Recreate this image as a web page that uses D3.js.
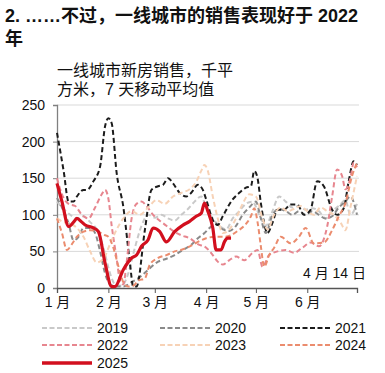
<!DOCTYPE html>
<html>
<head>
<meta charset="utf-8">
<script src="https://cdn.jsdelivr.net/npm/d3@7"></script>
<style>
  body { margin: 0; background: #fff; }
  svg { display: block; font-family: "Liberation Sans", Arial, "Noto Sans CJK SC", sans-serif; }
</style>
</head>
<body>
<div id="chart"></div>
<script>
// 一线城市新房销售，7 天移动平均值 (千平方米), [day of year, value]
const years = ["2019", "2020", "2021", "2022", "2023", "2024", "2025"]
const colors = ["#c9c9c9", "#8a8a8a", "#1c1c1c", "#e7868f", "#f7d2b6", "#eb8c6e", "#d20f1e"]

const s2019 = [[0,118],[4,108],[8,100],[12,95],[16,98],[20,90],[24,80],[28,55],[32,20],[35,5],[39,3],[43,20],[47,55],[51,85],[55,100],[59,96],[63,100],[67,95],[71,92],[75,100],[79,108],[83,118],[87,125],[90,110],[94,95],[98,85],[102,80],[106,95],[110,105],[114,115],[118,118],[122,100],[126,85],[130,105],[134,125],[138,118],[142,110],[146,112],[150,107],[154,109],[158,105],[162,95],[166,105],[170,112],[174,120],[177,100],[181,115]]
const s2020 = [[0,123],[3,110],[7,88],[10,65],[13,70],[16,82],[20,82],[23,75],[26,50],[29,20],[32,5],[36,2],[40,2],[45,8],[50,15],[55,25],[61,36],[66,40],[71,45],[76,52],[81,59],[85,68],[89,75],[92,82],[96,88],[100,80],[104,78],[108,85],[112,100],[116,110],[120,118],[123,95],[126,75],[130,100],[134,108],[138,105],[142,100],[146,105],[150,100],[154,105],[158,100],[162,95],[166,98],[170,110],[174,118],[177,125],[181,100]]
const s2021 = [[0,212],[4,160],[7,118],[10,118],[12,125],[16,134],[18,134],[22,146],[26,166],[29,221],[31,232],[33,225],[36,157],[40,111],[44,34],[46,2],[48,2],[53,79],[57,134],[61,139],[64,141],[67,150],[70,143],[74,130],[78,125],[81,130],[85,141],[88,134],[90,121],[94,93],[97,86],[100,98],[106,121],[110,130],[114,137],[117,139],[119,160],[121,150],[123,116],[127,75],[130,89],[133,107],[137,107],[141,114],[145,114],[149,100],[153,107],[157,146],[161,139],[166,107],[169,100],[173,109],[176,146],[179,173],[181,168]]
const s2022 = [[0,150],[3,128],[7,115],[11,112],[15,100],[19,95],[23,110],[27,128],[29,134],[31,122],[33,85],[36,40],[38,10],[40,5],[42,35],[45,95],[48,115],[51,118],[54,112],[58,100],[62,92],[66,85],[70,78],[75,72],[80,68],[85,60],[90,55],[94,45],[97,36],[100,32],[104,38],[108,43],[113,38],[118,48],[121,52],[124,29],[128,45],[133,50],[138,52],[143,48],[148,55],[153,62],[158,57],[163,84],[166,125],[169,162],[172,153],[174,135],[177,150],[179,171],[181,165]]
const s2023 = [[0,95],[4,90],[8,88],[12,82],[16,70],[20,50],[24,35],[28,40],[32,60],[36,80],[40,95],[45,105],[50,100],[55,110],[60,120],[65,115],[70,125],[75,130],[80,135],[84,145],[87,160],[89,168],[91,160],[94,125],[97,95],[100,75],[104,80],[108,95],[112,115],[116,128],[120,125],[124,95],[127,80],[131,100],[135,110],[139,105],[143,108],[147,112],[151,105],[155,100],[159,110],[163,105],[167,100],[171,90],[174,79],[177,110],[181,153]]
const s2024 = [[0,95],[3,75],[6,52],[9,60],[12,70],[16,77],[20,79],[24,78],[28,73],[31,70],[34,55],[37,30],[40,8],[43,2],[46,3],[49,10],[53,13],[56,32],[61,41],[66,45],[71,50],[76,53],[81,58],[85,63],[90,68],[96,70],[101,70],[105,72],[109,78],[113,85],[117,98],[119,109],[121,90],[123,57],[125,29],[128,45],[131,55],[135,70],[141,61],[146,70],[150,82],[155,61],[161,62],[166,79],[170,98],[174,116],[178,153],[181,171]]
const s2025 = [[0,143],[3,118],[7,84],[10,90],[12,95],[15,90],[17,86],[22,82],[25,77],[29,34],[33,2],[35,2],[40,25],[45,41],[48,45],[51,57],[55,66],[58,82],[62,77],[66,63],[71,77],[76,86],[80,91],[84,98],[87,102],[89,116],[91,105],[94,82],[96,52],[99,52],[101,63],[103,68],[105,68]]
const series = [s2019, s2020, s2021, s2022, s2023, s2024, s2025]

const yTicks = [0, 50, 100, 150, 200, 250]
const monthLabels = ["1 月", "2 月", "3 月", "4 月", "5 月", "6 月"]

const svg = d3.select("#chart").append("svg")
  .attr("width", 385)
  .attr("height", 373)

// title
const title = svg.append("text")
  .attr("x", 5)
  .attr("font-size", 18)
  .attr("font-weight", "bold")
  .attr("fill", "#111")
title.append("tspan").attr("x", 5).attr("y", 22).text("2. ……不过，一线城市的销售表现好于 2022")
title.append("tspan").attr("x", 5).attr("y", 45).text("年")

const sub = svg.append("text")
  .attr("font-size", 16)
  .attr("fill", "#111")
sub.append("tspan").attr("x", 57).attr("y", 76).text("一线城市新房销售，千平")
sub.append("tspan").attr("x", 57).attr("y", 95).text("方米，7 天移动平均值")

const plotL = 57, plotR = 357, plotT = 105, plotB = 288

const x = d3.scaleTime()
  .domain([new Date(2025, 0, 1), new Date(2025, 6, 1)])
  .range([plotL, plotR])

const y = d3.scaleLinear()
  .domain([0, 250])
  .range([plotB, plotT])

const day = d => new Date(2025, 0, 1 + d)

// gridlines
svg.append("g")
  .selectAll("line")
  .data(yTicks.filter(d => d > 0))
  .join("line")
  .attr("x1", plotL)
  .attr("x2", plotR + 2)
  .attr("y1", d => y(d))
  .attr("y2", d => y(d))
  .attr("stroke", "#d9d9d9")
  .attr("stroke-width", 1)

// y axis
const yAxis = svg.append("g")
  .attr("transform", "translate(" + plotL + ",0)")
  .call(d3.axisLeft(y).tickValues(yTicks).tickSize(4).tickPadding(8))
yAxis.select(".domain").attr("stroke", "#808080").attr("stroke-width", 1.3)
yAxis.selectAll(".tick line").attr("stroke", "#808080")
yAxis.selectAll("text").attr("font-size", 14).attr("fill", "#111")
  .attr("font-family", "'Liberation Sans', Arial, sans-serif")

// x axis
const months = d3.timeMonth.range(new Date(2025, 0, 1), new Date(2025, 6, 2))
const xAxis = svg.append("g")
  .attr("transform", "translate(0," + plotB + ")")
  .call(d3.axisBottom(x).tickValues(months).tickSize(5).tickPadding(4)
    .tickFormat((d, i) => monthLabels[i] || ""))
xAxis.select(".domain").attr("stroke", "#555").attr("stroke-width", 1.3)
xAxis.selectAll(".tick line").attr("stroke", "#555")
xAxis.selectAll("text").attr("font-size", 14).attr("fill", "#111")
  .attr("font-family", "'Liberation Sans', Arial, 'Noto Sans CJK SC', sans-serif")

const line = d3.line()
  .x(d => x(day(d[0])))
  .y(d => y(d[1]))
  .curve(d3.curveMonotoneX)

series.forEach((s, i) => {
  const isLast = i === series.length - 1
  svg.append("path")
    .datum(s)
    .attr("fill", "none")
    .attr("stroke", colors[i])
    .attr("stroke-width", isLast ? 3.2 : 2)
    .attr("stroke-dasharray", isLast ? null : "5,3")
    .attr("stroke-linejoin", "round")
    .attr("d", line)
})

svg.append("text")
  .attr("x", 366)
  .attr("y", 278)
  .attr("text-anchor", "end")
  .attr("font-size", 14)
  .attr("fill", "#111")
  .text("4 月 14 日")

// legend
const legendX = [42, 160, 280]
const legendY = [328, 345, 363]
const legend = svg.append("g")
years.forEach((yr, i) => {
  const lx = legendX[i % 3], ly = legendY[Math.floor(i / 3)]
  const isLast = i === years.length - 1
  legend.append("line")
    .attr("x1", lx).attr("x2", lx + 50)
    .attr("y1", ly).attr("y2", ly)
    .attr("stroke", colors[i])
    .attr("stroke-width", isLast ? 3.5 : 2)
    .attr("stroke-dasharray", isLast ? null : "5,2.5")
  legend.append("text")
    .attr("x", lx + 55)
    .attr("y", ly)
    .attr("dy", "0.36em")
    .attr("font-size", 14)
    .attr("fill", "#111")
    .text(yr)
})
</script>
</body>
</html>
